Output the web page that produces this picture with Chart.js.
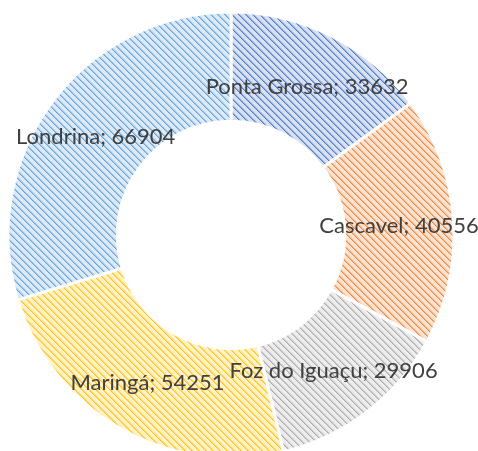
<!DOCTYPE html>
<html>
<head>
<meta charset="utf-8">
<script src="https://cdn.jsdelivr.net/npm/chart.js@4"></script>
<style>
  body { margin: 0; background: #fff; }
  #wrap { width: 478px; height: 451px; }
</style>
</head>
<body>
<div id="wrap"><canvas id="chart" width="478" height="451"></canvas></div>
<script>
// Chart data
const cities = ['Ponta Grossa', 'Cascavel', 'Foz do Iguaçu', 'Maringá', 'Londrina'];
const populations = [33632, 40556, 29906, 54251, 66904];

// Slice colours: line colour and pale background of the hatch
const lineColors = ['#4472C4', '#ED7D31', '#A5A5A5', '#FFC000', '#5B9BD5'];
const paleColors = ['#D8E1F2', '#FBE3D2', '#EDEDED', '#FFF1C8', '#DCEAF7'];

// Build a diagonal hatch pattern (like the Excel one)
function makeHatch(line, pale) {
  const size = 7;
  const tile = document.createElement('canvas');
  tile.width = size;
  tile.height = size;
  const c = tile.getContext('2d');
  c.fillStyle = pale;
  c.fillRect(0, 0, size, size);
  c.fillStyle = line;
  for (let i = 0; i < size; i++) {
    c.globalAlpha = 0.9;
    c.fillRect(i, i, 1, 1);
    c.globalAlpha = 0.45;
    c.fillRect((i + 1) % size, i, 1, 1);
    c.globalAlpha = 0.12;
    c.fillRect((i + 2) % size, i, 1, 1);
  }
  return c.createPattern(tile, 'repeat');
}

const ctx = document.getElementById('chart').getContext('2d');
const patterns = lineColors.map((col, i) => makeHatch(col, paleColors[i]));

// Draw "City; value" on each slice
const sliceLabels = {
  id: 'sliceLabels',
  afterDatasetsDraw(chart) {
    const meta = chart.getDatasetMeta(0);
    const c = chart.ctx;
    c.save();
    c.font = '22px Lato, "Open Sans", sans-serif';
    c.fillStyle = '#404040';
    c.textAlign = 'center';
    c.textBaseline = 'middle';
    meta.data.forEach((arc, i) => {
      const p = arc.tooltipPosition();
      c.fillText(`${cities[i]}; ${populations[i]}`, p.x, p.y + 2);
    });
    c.restore();
  }
};

new Chart(ctx, {
  type: 'doughnut',
  data: {
    labels: cities,
    datasets: [{
      data: populations,
      backgroundColor: patterns,
      borderColor: '#ffffff',
      borderWidth: 3
    }]
  },
  options: {
    responsive: false,
    animation: false,
    radius: 223,
    cutout: '51%',
    layout: { padding: { left: 0, right: 16, top: 19, bottom: 0 } },
    plugins: {
      legend: { display: false },
      tooltip: { enabled: false }
    }
  },
  plugins: [sliceLabels]
});
</script>
</body>
</html>
